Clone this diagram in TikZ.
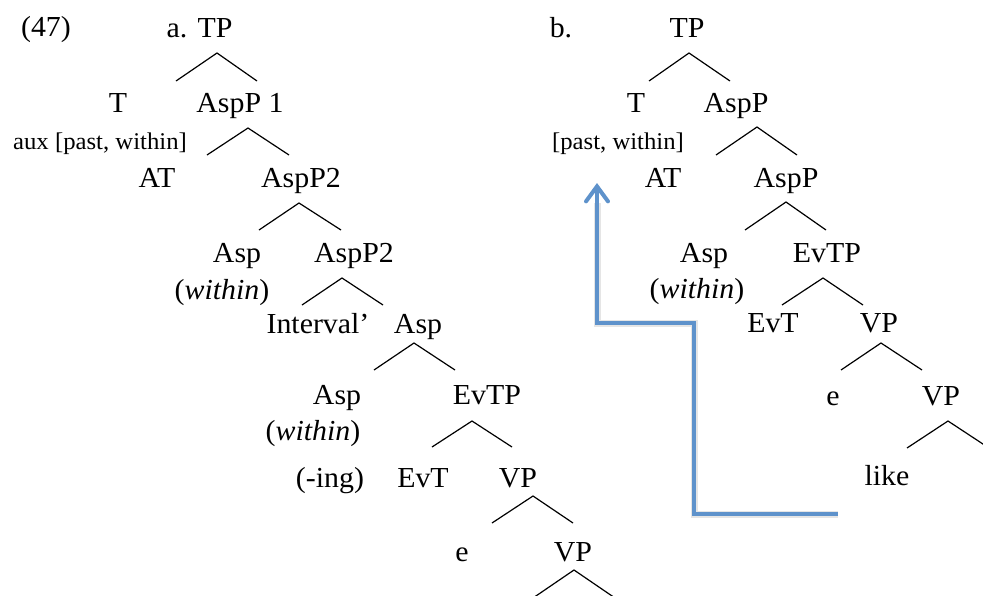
\documentclass[tikz,border=0pt]{standalone}
\usepackage{fontspec}
\setmainfont[FakeStretch=1.03]{Liberation Serif}
\usetikzlibrary{arrows.meta,calc}
\definecolor{arrblue}{RGB}{94,146,203}
\tikzset{
  lab/.style={anchor=base, font=\fontsize{29}{33}\selectfont, inner sep=0pt},
  sm/.style={anchor=base, font=\fontsize{24}{28}\selectfont, inner sep=0pt},
  br/.style={line width=1.2pt, black},
  movearrow/.style={line width=4pt, arrblue, line join=miter,
    -{Straight Barb[length=15pt,width=22pt,line cap=round]}},
  moveshadow/.style={line width=7pt, black, opacity=0.10, line join=miter}
}
\begin{document}
\begin{tikzpicture}[x=1pt,y=-1pt]
\useasboundingbox (0,0) rectangle (983,595);
\clip (0,0) rectangle (983,595);
% ---------- tree a ----------
\node[lab] (n47) at (46,36) {(47)};
\node[lab] (la) at (177,37) {a.};
\node[lab] (TPa) at (215,37) {TP};
\node[lab] (Ta) at (118,112) {T};
\node[lab] (AspPone) at (240,112) {AspP 1};
\node[sm] (auxa) at (100,149) {aux [past, within]};
\node[lab] (ATa) at (157,187) {AT};
\node[lab] (AspPtwoa) at (301,187) {AspP2};
\node[lab] (Aspa) at (237,262) {Asp};
\node[lab] (AspPtwob) at (354,262) {AspP2};
\node[lab] (withina) at (222,299) {(\textit{within})};
\node[lab] (Interval) at (318,333) {Interval’};
\node[lab] (Aspb) at (418,333) {Asp};
\node[lab] (Aspc) at (337,404) {Asp};
\node[lab] (EvTPa) at (487,404) {EvTP};
\node[lab] (withinb) at (313,440) {(\textit{within})};
\node[lab] (ing) at (330,487) {(-ing)};
\node[lab] (EvTa) at (423,487) {EvT};
\node[lab] (VPa) at (518,487) {VP};
\node[lab] (ea) at (462,561) {e};
\node[lab] (VPb) at (573,561) {VP};
% branches a
\coordinate (p1) at (217,53); \coordinate (p1l) at (176,81); \coordinate (p1r) at (257,81);
\coordinate (p2) at (248,128); \coordinate (p2l) at (207,155); \coordinate (p2r) at (289,155);
\coordinate (p3) at (299,203); \coordinate (p3l) at (259,230); \coordinate (p3r) at (341,230);
\coordinate (p4) at (342,278); \coordinate (p4l) at (302,305); \coordinate (p4r) at (383,305);
\coordinate (p5) at (414,343); \coordinate (p5l) at (374,370); \coordinate (p5r) at (455,370);
\coordinate (p6) at (472,421); \coordinate (p6l) at (432,447); \coordinate (p6r) at (512,447);
\coordinate (p7) at (533,496); \coordinate (p7l) at (492,523); \coordinate (p7r) at (573,523);
\coordinate (p8) at (574,570); \coordinate (p8l) at (533,598); \coordinate (p8r) at (615,598);
\foreach \p in {p1,p2,p3,p4,p5,p6,p7,p8}{
  \draw[br] (\p l) -- (\p) -- (\p r);
}
% ---------- tree b ----------
\node[lab] (lb) at (561,37) {b.};
\node[lab] (TPb) at (687,37) {TP};
\node[lab] (Tb) at (636,112) {T};
\node[lab] (AspPb) at (736,112) {AspP};
\node[sm] (pastb) at (618,149) {[past, within]};
\node[lab] (ATb) at (663,187) {AT};
\node[lab] (AspPc) at (786,187) {AspP};
\node[lab] (Aspd) at (704,262) {Asp};
\node[lab] (EvTPb) at (827,262) {EvTP};
\node[lab] (withinc) at (697,298) {(\textit{within})};
\node[lab] (EvTb) at (773,332) {EvT};
\node[lab] (VPc) at (879,332) {VP};
\node[lab] (eb) at (833,405) {e};
\node[lab] (VPd) at (941,405) {VP};
\node[lab] (like) at (887,485) {like};
% branches b
\coordinate (q1) at (689,53); \coordinate (q1l) at (649,81); \coordinate (q1r) at (730,81);
\coordinate (q2) at (757,127); \coordinate (q2l) at (716,155); \coordinate (q2r) at (797,155);
\coordinate (q3) at (786,202); \coordinate (q3l) at (745,230); \coordinate (q3r) at (826,230);
\coordinate (q4) at (823,278); \coordinate (q4l) at (782,305); \coordinate (q4r) at (863,305);
\coordinate (q5) at (881,343); \coordinate (q5l) at (841,370); \coordinate (q5r) at (922,370);
\coordinate (q6) at (948,421); \coordinate (q6l) at (907,448); \coordinate (q6r) at (989,448);
\foreach \p in {q1,q2,q3,q4,q5,q6}{
  \draw[br] (\p l) -- (\p) -- (\p r);
}
% ---------- movement arrow ----------
\coordinate (m0) at (838,514);
\coordinate (m1) at (694,514);
\coordinate (m2) at (694,323);
\coordinate (m3) at (597,323);
\coordinate (m4) at (597,183);
\coordinate (m4s) at (597,203);
\begin{scope}[shift={(2,3)}]
\draw[moveshadow] (m0) -- (m1) -- (m2) -- (m3) -- (m4s);
\end{scope}
\draw[movearrow] (m0) -- (m1) -- (m2) -- (m3) -- (m4);
\end{tikzpicture}
\end{document}
